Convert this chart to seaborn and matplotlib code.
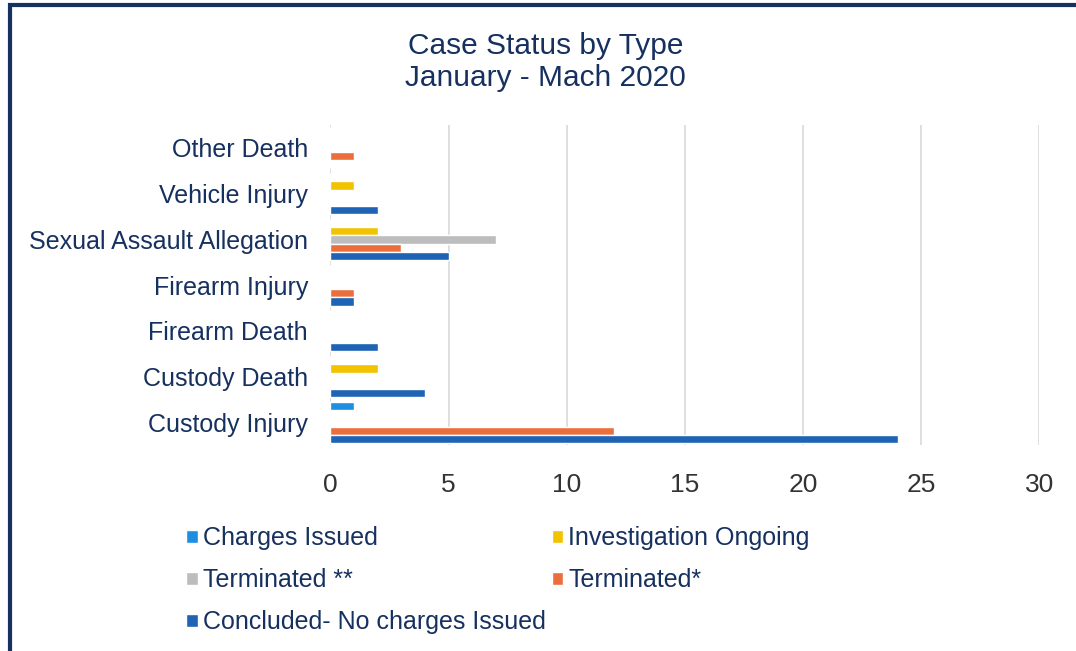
import numpy as np
import pandas as pd
import matplotlib
matplotlib.use("Agg")
import matplotlib.pyplot as plt
import seaborn as sns
from matplotlib.patches import Rectangle

# data
case_types = ["Other Death", "Vehicle Injury", "Sexual Assault Allegation",
              "Firearm Injury", "Firearm Death", "Custody Death", "Custody Injury"]
statuses = ["Charges Issued", "Investigation Ongoing", "Terminated **",
            "Terminated*", "Concluded- No charges Issued"]

charges_issued = [0, 0, 0, 0, 0, 0, 1]
investigation_ongoing = [0, 1, 2, 0, 0, 2, 0]
terminated_2 = [0, 0, 7, 0, 0, 0, 0]
terminated_1 = [1, 0, 3, 1, 0, 0, 12]
concluded = [0, 2, 5, 1, 2, 4, 24]

x_ticks = [0, 5, 10, 15, 20, 25, 30]

colors = ["#1d8fe1", "#f2c300", "#bdbdbd", "#ea6f3c", "#1f63b5"]
navy = "#16305f"

series = [charges_issued, investigation_ongoing, terminated_2, terminated_1, concluded]
df = pd.DataFrame({
    "type": np.tile(case_types, len(statuses)),
    "status": np.repeat(statuses, len(case_types)),
    "count": np.concatenate(series),
})

sns.set_theme(style="white")
plt.rcParams["font.family"] = ["Liberation Sans", "DejaVu Sans"]

fig = plt.figure(figsize=(10.76, 6.51), dpi=100)
ax = fig.add_axes([0.307, 0.316, 0.659, 0.492])

sns.barplot(data=df, x="count", y="type", hue="status", order=case_types,
            hue_order=statuses, palette=colors, orient="h", width=0.9,
            saturation=1, ax=ax)

ax.set_xlim(0, 30)
ax.set_xticks(x_ticks)
ax.xaxis.grid(True, color="#d9d9d9", lw=1.2)
ax.set_axisbelow(True)
for s in ax.spines.values():
    s.set_visible(False)
ax.set_xlabel("")
ax.set_ylabel("")
ax.tick_params(axis="y", labelsize=18, labelcolor=navy, pad=16, length=0)
ax.tick_params(axis="x", labelsize=19, labelcolor="#333333", pad=20, length=0)

fig.text(0.507, 0.930, "Case Status by Type", ha="center", va="center",
         fontsize=21.5, color=navy)
fig.text(0.507, 0.880, "January - Mach 2020", ha="center", va="center",
         fontsize=21.5, color=navy)

# legend filled row by row, like the original
ax.legend_.remove()
handles, labels = ax.get_legend_handles_labels()
idx = [0, 2, 4, 1, 3]
fig.legend([handles[i] for i in idx], [labels[i] for i in idx],
           loc="upper left", bbox_to_anchor=(0.164, 0.207),
           ncol=2, frameon=False, fontsize=18, labelcolor=navy,
           handlelength=0.45, handleheight=0.45, handletextpad=0.2,
           columnspacing=0.25, labelspacing=0.72, borderaxespad=0)

fig.patches.append(Rectangle((0.009, -0.01), 1.2, 1.002, transform=fig.transFigure,
                             fill=False, ec=navy, lw=3))

fig.savefig("out.png", dpi=100)
